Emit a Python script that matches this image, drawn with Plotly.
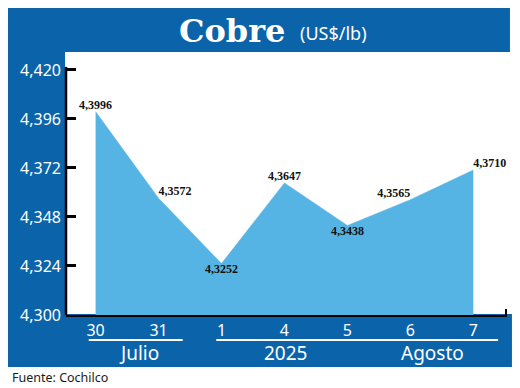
import plotly.graph_objects as go

# ---- data ----
days = ["30", "31", "1", "4", "5", "6", "7"]
prices = [4.3996, 4.3572, 4.3252, 4.3647, 4.3438, 4.3565, 4.3710]
label_pos = ["top center", "top right", "bottom center", "top center",
             "bottom center", "top left", "top right"]
y_ticks = [4.300, 4.324, 4.348, 4.372, 4.396, 4.420]
groups = ["Julio", "2025", "Agosto"]

BLUE = "#0B63A9"
LIGHT = "#56B4E4"
OFF = 8  # page body margin offset
W, H = 520 - OFF, 388 - OFF
# plot area in reference pixels
L, R, T, B = 61, 507, 52, 315


def xp(px):
    return (px - L) / (R - L)


def yp(py):
    return (B - py) / (B - T)


x_idx = list(range(len(days)))

fig = go.Figure()
fig.add_trace(go.Scatter(
    x=x_idx, y=prices, mode="lines+text",
    fill="tozeroy", fillcolor=LIGHT,
    line=dict(color=LIGHT, width=0.5),
    text=[f"{v:.4f}".replace(".", ",") for v in prices],
    textposition=label_pos,
    textfont=dict(family="Liberation Serif", size=12, color="#111111", weight="bold"),
    hoverinfo="skip", cliponaxis=False,
))

shapes = [
    # title bar
    dict(type="rect", xref="paper", yref="paper", x0=xp(0), x1=xp(510), y0=yp(8), y1=yp(52),
         fillcolor=BLUE, line_width=0, layer="below"),
    # left strip
    dict(type="rect", xref="paper", yref="paper", x0=xp(0), x1=xp(60), y0=yp(8), y1=yp(367),
         fillcolor=BLUE, line_width=0, layer="below"),
    # bottom band
    dict(type="rect", xref="paper", yref="paper", x0=xp(0), x1=xp(512), y0=yp(314), y1=yp(367),
         fillcolor=BLUE, line_width=0, layer="below"),
    # y axis line (from bottom to just above top tick)
    dict(type="line", xref="paper", yref="y", x0=0, x1=0, y0=4.2985, y1=4.4215,
         line=dict(color="black", width=2.5)),
    # little end tick on x axis
    dict(type="line", xref="paper", yref="paper", x0=xp(506), x1=xp(506), y0=0, y1=yp(309),
         line=dict(color="black", width=2)),
    # group underlines
    dict(type="line", xref="paper", yref="paper", x0=xp(84), x1=xp(179), y0=yp(340), y1=yp(340),
         line=dict(color="white", width=2)),
    dict(type="line", xref="paper", yref="paper", x0=xp(213), x1=xp(498), y0=yp(340), y1=yp(340),
         line=dict(color="white", width=2)),
]

annotations = [
    dict(text="<b>Cobre</b>", x=xp(229), y=yp(31), xref="paper", yref="paper",
         showarrow=False, xanchor="center", yanchor="middle",
         font=dict(family="DejaVu Serif", size=32, color="white")),
    dict(text="(US$/lb)", x=xp(296), y=yp(33), xref="paper", yref="paper",
         showarrow=False, xanchor="left", yanchor="middle",
         font=dict(family="Noto Sans", size=18, color="white")),
    dict(text="Fuente: Cochilco", x=xp(4), y=yp(377), xref="paper", yref="paper",
         showarrow=False, xanchor="left", yanchor="middle",
         font=dict(family="Noto Sans", size=12.5, color="#1a1a1a")),
]
for g, cx in zip(groups, [135, 283, 432]):
    annotations.append(dict(text=g, x=xp(cx), y=yp(353), xref="paper", yref="paper",
                            showarrow=False, xanchor="center", yanchor="middle",
                            font=dict(family="Noto Sans", size=19, color="white")))

fig.update_layout(
    width=W, height=H,
    margin=dict(l=L - OFF, r=520 - R, t=T - OFF, b=388 - B, pad=0),
    paper_bgcolor="white", plot_bgcolor="rgba(0,0,0,0)",
    separators=",.",
    showlegend=False,
    shapes=shapes, annotations=annotations,
    xaxis=dict(range=[-0.47, 6.535], tickvals=x_idx, ticktext=days,
               showgrid=False, zeroline=False, ticks="",
               showline=True, linecolor="black", linewidth=2,
               tickfont=dict(family="Noto Sans", size=16, color="white"),
               fixedrange=True),
    yaxis=dict(range=[4.300, 4.4288], tickvals=y_ticks, tickformat=".3f",
               showgrid=False, zeroline=False, showline=False,
               ticks="inside", ticklen=10, tickwidth=2.5, tickcolor="black",
               tickfont=dict(family="Noto Sans", size=16, color="white"),
               ticklabelstandoff=4, fixedrange=True),
)

fig.write_html("out.html")
